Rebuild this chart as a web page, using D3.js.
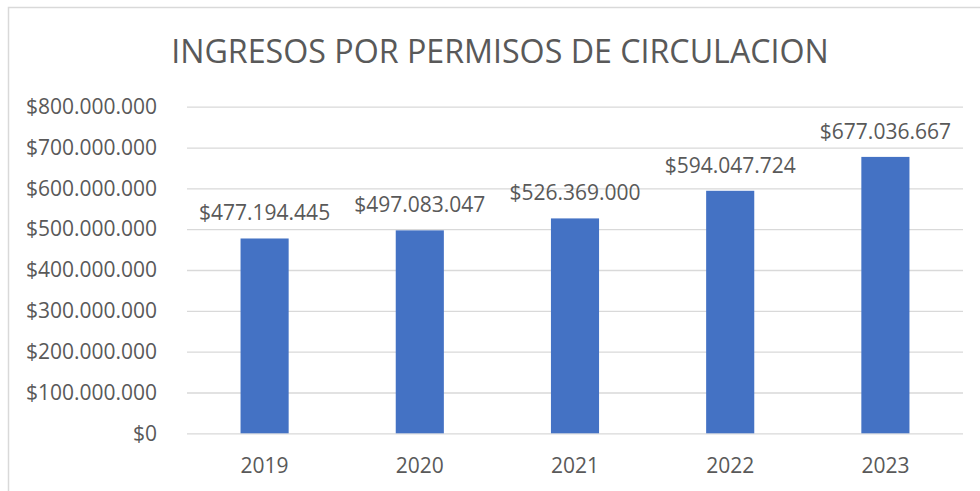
<!DOCTYPE html>
<html><head><meta charset="utf-8">
<script src="https://cdn.jsdelivr.net/npm/d3@7"></script>
<style>html,body{margin:0;padding:0;background:#fff;}</style>
</head><body>
<svg id="chart" width="980" height="491"></svg>
<script>
const categories = ["2019","2020","2021","2022","2023"];
const values = [477194445, 497083047, 526369000, 594047724, 677036667];
const yTicks = [0,100000000,200000000,300000000,400000000,500000000,600000000,700000000,800000000];
const title = "INGRESOS POR PERMISOS DE CIRCULACION";

(function(){
const fmt = v => "$" + d3.format(",")(v).replace(/,/g, ".");
const svg = d3.select("#chart");
const font = "'Open Sans', sans-serif";
const textColor = "#595959";

svg.append("rect").attr("x",8.5).attr("y",7.5).attr("width",1000).attr("height",600)
  .attr("fill","#fff").attr("stroke","#d9d9d9").attr("stroke-width",1.5);

const pl = 187, pr = 963, pt = 106.7, pb = 433.3;
const x = d3.scaleBand().domain(categories).range([pl,pr]).paddingInner(0.69).paddingOuter(0.345);
const y = d3.scaleLinear().domain([0,800000000]).range([pb, pt]);

svg.append("text").attr("x",500).attr("y",63).attr("text-anchor","middle")
  .attr("font-family",font).attr("font-size",32.2).attr("fill",textColor).text(title);

const yAxis = d3.axisLeft(y).tickValues(yTicks).tickSize(0).tickFormat(fmt).tickPadding(30);
const gy = svg.append("g").attr("transform",`translate(${pl},0)`).call(yAxis);
gy.select(".domain").remove();
gy.selectAll(".tick line").attr("stroke","#d9d9d9").attr("stroke-width",1.3).attr("x1",0).attr("x2",pr-pl);
gy.selectAll(".tick text").attr("font-family",font).attr("font-size",21).attr("fill",textColor);

svg.append("g").selectAll("rect").data(values).join("rect")
  .attr("x",(d,i)=>x(categories[i])).attr("width",x.bandwidth())
  .attr("y",d=>y(d)).attr("height",d=>pb-y(d)).attr("fill","#4472c4");

svg.append("g").selectAll("text").data(values).join("text")
  .attr("x",(d,i)=>x(categories[i])+x.bandwidth()/2).attr("y",d=>y(d)-18)
  .attr("text-anchor","middle").attr("font-family",font).attr("font-size",21).attr("fill",textColor)
  .text(fmt);

const xAxis = d3.axisBottom(x).tickSize(0).tickPadding(25);
const gx = svg.append("g").attr("transform",`translate(0,${pb})`).call(xAxis);
gx.select(".domain").remove();
gx.selectAll(".tick text").attr("font-family",font).attr("font-size",21).attr("fill",textColor);
})();
</script>
</body></html>
